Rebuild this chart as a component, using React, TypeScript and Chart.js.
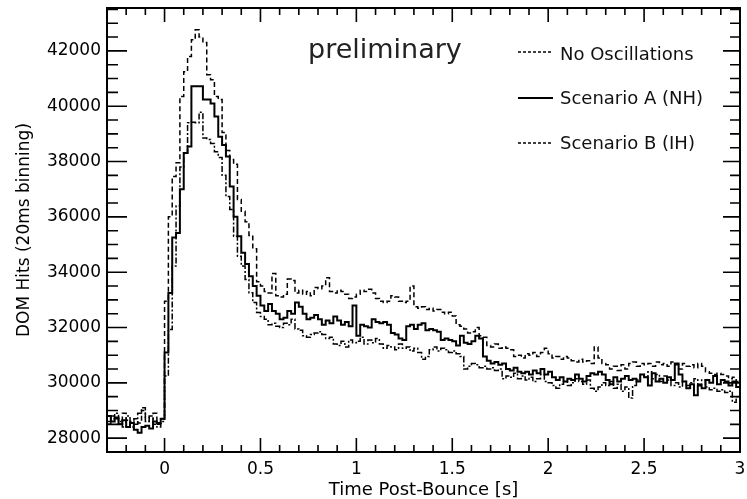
import React, { useEffect, useRef } from "react";
import { Chart, registerables } from "chart.js";

Chart.register(...registerables);

// ---- data (20 ms bins, first bin starts at -0.30 s) ----
const BIN_START = -0.3;
const BIN_WIDTH = 0.02;

const seriesLabels = ["No Oscillations", "Scenario A (NH)", "Scenario B (IH)"];

const noOscillations = [
  // -0.30 .. -0.02
  28600, 28800, 28700, 28500, 28900, 28650, 28400, 28700, 28550, 29000, 28750, 28600, 28900, 28500, 28700,
  // 0.00 .. 0.20
  32950, 36000, 37460, 37960, 40350, 41250, 41800, 42400, 42760, 42500, 42300,
  // 0.22 .. 0.48
  41140, 40960, 40350, 40240, 39050, 38400, 38070, 37900, 36630, 36200, 35820, 35330, 34850, 33650,
  // 0.50 .. 0.98
  33500, 33300, 33250, 33950, 33150, 33100, 33200, 33750, 33700, 33250, 33350, 33200, 33300, 33150, 33450,
  33400, 33500, 33800, 33300, 33250, 33350, 33300, 33200, 33050, 33100,
  // 1.00 .. 1.48
  33200, 33350, 33300, 33380, 33250, 33050, 32950, 32900, 32950, 33150, 33100, 32950, 32900, 32950, 33500,
  32750, 32700, 32750, 32650, 32700, 32600, 32650, 32550, 32500, 32550,
  // 1.50 .. 1.98
  32420, 32100, 32050, 31950, 31800, 31850, 32000, 31700, 31650, 31350, 31300, 31400, 31250, 31300, 31250,
  31200, 30950, 31000, 30900, 31050, 31000, 31100, 30950, 31100, 31250,
  // 2.00 .. 2.48
  31050, 30900, 30950, 30850, 30950, 30900, 30800, 30750, 30850, 30750, 30800, 30700, 31300, 30900, 30700,
  30650, 30500, 30600, 30450, 30650, 30500, 30700, 30750, 30600, 30700,
  // 2.50 .. 2.98
  30650, 30700, 30600, 30750, 30650, 30700, 30600, 30750, 30650, 30500, 30700, 30600, 30650, 30550, 30700,
  30600, 30400, 30350, 30300, 30350, 30300, 30250, 30150, 30200, 30050,
];

const scenarioA = [
  28800, 28600, 28750, 28500, 28650, 28400, 28550, 28300, 28200, 28400, 28450, 28350, 28600, 28550, 28700,
  31100, 33250, 35250, 35420, 37000, 38310, 38540, 40720, 40720, 40720, 40240,
  40240, 40100, 39630, 38900, 38600, 38180, 37100, 36000, 35300, 34700, 34300, 33850, 33500, 33150,
  32800, 32600, 32850, 32600, 32500, 32300, 32350, 32600, 32500, 32900, 32750, 32500, 32300, 32350, 32450,
  32300, 32100, 32250, 32150, 32400, 32250, 32100, 32200, 32050, 32800,
  31700, 32100, 32050, 32000, 32300, 32200, 32150, 32200, 32100, 31800, 31750, 31600, 31550, 32050, 32100,
  31950, 32100, 32150, 31900, 31950, 31900, 31850, 31550, 31600, 31550,
  31500, 31350, 31700, 31450, 31400, 31500, 31700, 31600, 30950, 30800, 30700, 30750, 30650, 30700, 30500,
  30450, 30550, 30400, 30350, 30400, 30300, 30450, 30350, 30500, 30300,
  30400, 30200, 30100, 30200, 30050, 30150, 30100, 30300, 30150, 30050, 30250, 30350, 30300, 30400, 30300,
  30100, 29950, 30200, 30050, 30150, 30250, 30100, 30150, 30050, 30300,
  30200, 29900, 30350, 30050, 30150, 30000, 30200, 30100, 30700, 30300, 30050, 29800, 29950, 29550, 29900,
  29800, 30100, 30000, 30250, 29950, 30100, 30050, 29900, 30050, 29850,
];

const scenarioB = [
  28500, 28700, 28900, 28600, 28400, 28800, 28600, 28500, 28900, 29100, 28600, 28800, 28500, 28400, 28600,
  30250, 31930, 34220, 36390, 37800, 38300, 39400, 39420, 39400, 39780, 38850,
  38800, 38650, 38350, 38150, 37500, 36740, 36270, 35300, 34580, 34220, 33740, 33260, 32900, 32540,
  32400, 32300, 32100, 32150, 32050, 32000, 32150, 32100, 32300, 31950, 31900, 31700, 31650, 31750, 31800,
  31850, 31750, 31600, 31650, 31400, 31350, 31500, 31300, 31550, 31450,
  31500, 31650, 31400, 31550, 31450, 31600, 31400, 31250, 31350, 31300, 31200, 31400, 31250, 31300, 31150,
  31250, 31100, 30850, 30950, 31200, 31300, 31150, 31250, 31200, 31100,
  31150, 31050, 30950, 30500, 30600, 30700, 30650, 30550, 30600, 30500, 30550, 30450, 30500, 30150, 30250,
  30200, 30350, 30150, 30250, 30100, 30200, 30050, 30150, 30300, 30050,
  30000, 29900, 29800, 29950, 30050, 29900, 30000, 30150, 30050, 29950, 30100, 29800, 29700, 29850, 30000,
  29900, 30050, 29800, 29950, 29700, 29850, 29450, 29900, 30100, 30300,
  30200, 30400, 30150, 30300, 30050, 30250, 30100, 29900, 30000, 29850, 30050, 29900, 30000, 30150, 29950,
  30100, 29850, 29750, 29800, 29700, 29750, 29650, 29700, 29300, 29500,
];

const xTicks = [0, 0.5, 1, 1.5, 2, 2.5, 3];
const yTicks = [28000, 30000, 32000, 34000, 36000, 38000, 40000, 42000];
const X_MIN = -0.3;
const X_MAX = 3;
const Y_MIN = 27500;
const Y_MAX = 43550;
const X_MINOR = 0.1;
const Y_MINOR = 500;

const FONT = "'DejaVu Sans', 'Liberation Sans', Arial, sans-serif";

function toPoints(values: number[]) {
  const pts = values.map((v, i) => ({ x: BIN_START + i * BIN_WIDTH, y: v }));
  pts.push({ x: BIN_START + values.length * BIN_WIDTH, y: values[values.length - 1] });
  return pts;
}

const framePlugin = {
  id: "rootFrame",
  afterDraw(chart: any) {
    const { ctx, chartArea: a, scales } = chart;
    const xs = scales.x;
    const ys = scales.y;
    ctx.save();
    ctx.strokeStyle = "#000";
    ctx.lineWidth = 1.6;
    ctx.beginPath();
    // x ticks (bottom & top)
    const kx0 = Math.ceil(X_MIN / X_MINOR - 1e-6);
    const kx1 = Math.floor(X_MAX / X_MINOR + 1e-6);
    for (let k = kx0; k <= kx1; k++) {
      const v = k * X_MINOR;
      const px = xs.getPixelForValue(v);
      const major = Math.abs(Math.round(v * 10)) % 5 === 0;
      const len = major ? 14 : 7;
      ctx.moveTo(px, a.bottom);
      ctx.lineTo(px, a.bottom - len);
      ctx.moveTo(px, a.top);
      ctx.lineTo(px, a.top + len);
    }
    // y ticks (left & right)
    const ky0 = Math.ceil(Y_MIN / Y_MINOR);
    const ky1 = Math.floor(Y_MAX / Y_MINOR);
    for (let k = ky0; k <= ky1; k++) {
      const v = k * Y_MINOR;
      const py = ys.getPixelForValue(v);
      const major = v % 2000 === 0;
      ctx.moveTo(a.left, py);
      ctx.lineTo(a.left + (major ? 20 : 11), py);
      ctx.moveTo(a.right, py);
      ctx.lineTo(a.right - (major ? 17 : 10), py);
    }
    ctx.stroke();
    // frame
    ctx.lineWidth = 2;
    ctx.strokeRect(a.left, a.top, a.right - a.left, a.bottom - a.top);

    // "preliminary" label
    ctx.fillStyle = "#222";
    ctx.font = `27px ${FONT}`;
    ctx.textBaseline = "alphabetic";
    ctx.textAlign = "left";
    ctx.fillText("preliminary", 308, 58);

    // legend
    const rows = [
      { lineY: 52, baseY: 60 },
      { lineY: 98, baseY: 104 },
      { lineY: 143, baseY: 149 },
    ];
    ctx.font = `18px ${FONT}`;
    chart.data.datasets.forEach((ds: any, i: number) => {
      const r = rows[i];
      ctx.beginPath();
      ctx.lineWidth = i === 1 ? 2 : 1.5;
      ctx.setLineDash(i === 1 ? [] : [3, 2]);
      ctx.moveTo(518, r.lineY);
      ctx.lineTo(553, r.lineY);
      ctx.stroke();
      ctx.setLineDash([]);
      ctx.fillStyle = "#111";
      ctx.fillText(ds.label, 560, r.baseY);
    });
    ctx.restore();
  },
};

export default function App() {
  const canvasRef = useRef<HTMLCanvasElement>(null);

  useEffect(() => {
    const canvas = canvasRef.current;
    if (!canvas) return;
    const chart = new Chart(canvas, {
      type: "line",
      data: {
        datasets: [
          {
            label: seriesLabels[0],
            data: toPoints(noOscillations),
            borderColor: "#000",
            borderWidth: 1.5,
            borderDash: [5, 3],
            stepped: true,
            pointRadius: 0,
            fill: false,
          },
          {
            label: seriesLabels[1],
            data: toPoints(scenarioA),
            borderColor: "#000",
            borderWidth: 2,
            stepped: true,
            pointRadius: 0,
            fill: false,
          },
          {
            label: seriesLabels[2],
            data: toPoints(scenarioB),
            borderColor: "#000",
            borderWidth: 1.5,
            borderDash: [6, 2, 2, 2],
            stepped: true,
            pointRadius: 0,
            fill: false,
          },
        ],
      },
      options: {
        animation: false,
        responsive: false,
        maintainAspectRatio: false,
        layout: { padding: { left: 0, right: 7, top: 8, bottom: 0 } },
        plugins: {
          legend: { display: false },
          tooltip: { enabled: false },
        },
        scales: {
          x: {
            type: "linear",
            min: X_MIN,
            max: X_MAX,
            grid: { display: false, drawTicks: false },
            border: { display: false },
            afterBuildTicks: (s: any) => {
              s.ticks = xTicks.map((v) => ({ value: v }));
            },
            afterFit: (s: any) => {
              s.height = 47;
              s.paddingLeft = 0;
              s.paddingRight = 0;
            },
            ticks: {
              padding: 7,
              color: "#000",
              autoSkip: false,
              maxRotation: 0,
              font: { family: FONT, size: 17 },
              callback: (v: any) => String(v),
            },
            title: {
              display: true,
              text: "Time Post-Bounce [s]",
              color: "#000",
              font: { family: FONT, size: 18, lineHeight: 1 },
              padding: { top: 0, bottom: 0 },
            },
          },
          y: {
            type: "linear",
            min: Y_MIN,
            max: Y_MAX,
            grid: { display: false, drawTicks: false },
            border: { display: false },
            afterBuildTicks: (s: any) => {
              s.ticks = yTicks.map((v) => ({ value: v }));
            },
            afterFit: (s: any) => {
              s.width = 107;
              s.paddingTop = 0;
              s.paddingBottom = 0;
            },
            ticks: {
              padding: 6,
              color: "#000",
              autoSkip: false,
              font: { family: FONT, size: 17 },
              callback: (v: any) => String(v),
            },
            title: {
              display: true,
              text: "DOM Hits (20ms binning)",
              color: "#000",
              font: { family: FONT, size: 17, lineHeight: 1 },
              padding: { top: 16, bottom: 0 },
            },
          },
        },
      },
      plugins: [framePlugin],
    } as any);
    return () => chart.destroy();
  }, []);

  return (
    <div style={{ position: "absolute", left: 0, top: 0, width: 747, height: 499, background: "#fff" }}>
      <canvas ref={canvasRef} width={747} height={499} style={{ display: "block" }} />
    </div>
  );
}
